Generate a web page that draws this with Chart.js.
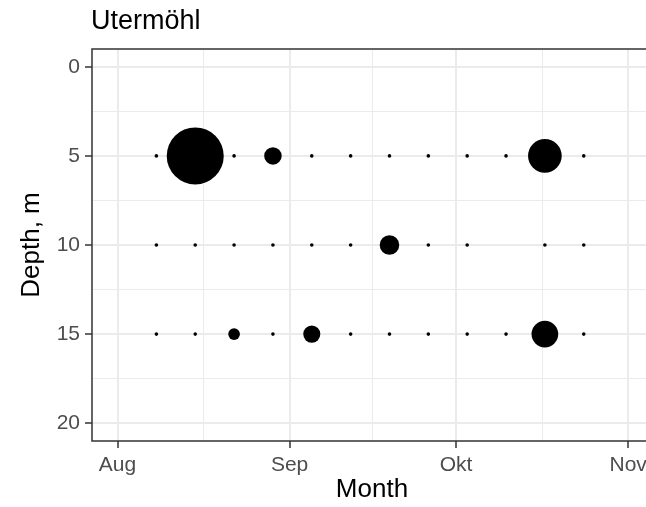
<!DOCTYPE html>
<html>
<head>
<meta charset="utf-8">
<script src="https://cdn.jsdelivr.net/npm/chart.js@4.4.0/dist/chart.umd.min.js"></script>
<style>
  html, body { margin: 0; padding: 0; background: #ffffff; overflow: hidden; }
  #wrap { position: relative; width: 652px; height: 507px; }
</style>
</head>
<body>
<div id="wrap"><canvas id="c"></canvas></div>
<script>
// Weekly sampling dates (month-day)
const sampleDates = ['08-08', '08-15', '08-22', '08-29', '09-05', '09-12',
                     '09-19', '09-26', '10-03', '10-10', '10-17', '10-24'];
const depthLevels = [5, 10, 15];
// Utermöhl counts per sampling date (relative abundance), null = no sample
const counts5m  = [0, 100, 0, 6.8, 0, 0, 0, 0, 0, 0, 31.7, 0];
const counts10m = [0, 0, 0, 0, 0, 0, 8.9, 0, 0, null, 0, 0];
const counts15m = [0, 0, 2.3, 0, 6.4, 0, 0, 0, 0, 0, 18.7, 0];
const countsByDepth = [counts5m, counts10m, counts15m];

const monthStarts = ['08-01', '09-01', '10-01', '11-01'];
const monthLabels = ['Aug', 'Sep', 'Okt', 'Nov'];
const depthTicks = [0, 5, 10, 15, 20];

// day offset from 1 August
const dayOf = s => {
  const [m, d] = s.split('-').map(Number);
  return (Date.UTC(2021, m - 1, d) - Date.UTC(2021, 7, 1)) / 86400000;
};

const monthDays = monthStarts.map(dayOf);
const midpoints = arr => arr.slice(1).map((v, i) => (v + arr[i]) / 2);
const xTickValues = [...monthDays, ...midpoints(monthDays)].sort((a, b) => a - b);
const yTickValues = [...depthTicks, ...midpoints(depthTicks)].sort((a, b) => a - b);

// area-style size scale: radius grows with sqrt of the count
const R_MIN = 1.8, R_MAX = 28.5;
const maxCount = Math.max(...countsByDepth.flat().filter(v => v !== null));
const radiusFor = v => R_MIN + (R_MAX - R_MIN) * Math.sqrt(v / maxCount);

const points = [];
depthLevels.forEach((depth, di) => {
  countsByDepth[di].forEach((v, i) => {
    if (v === null) return;
    points.push({ x: dayOf(sampleDates[i]), y: depth, r: radiusFor(v) });
  });
});

const FONT = '"Liberation Sans", Arial, Helvetica, sans-serif';
const isMajorX = v => monthDays.includes(v);
const isMajorY = v => depthTicks.includes(v);

const panelDecor = {
  id: 'panelDecor',
  afterDraw(chart) {
    const { ctx, chartArea: a } = chart;
    ctx.save();
    ctx.strokeStyle = '#333333';
    ctx.lineWidth = 1.5;
    ctx.strokeRect(a.left, a.top, a.right - a.left, a.bottom - a.top);
    ctx.fillStyle = '#000000';
    ctx.font = '27px ' + FONT;
    ctx.textBaseline = 'alphabetic';
    ctx.textAlign = 'left';
    ctx.fillText('Utermöhl', a.left - 1, 29);
    ctx.restore();
  }
};

new Chart(document.getElementById('c'), {
  type: 'bubble',
  data: {
    datasets: [{
      data: points,
      backgroundColor: '#000000',
      borderWidth: 0,
      hoverBorderWidth: 0
    }]
  },
  options: {
    responsive: true,
    maintainAspectRatio: false,
    animation: false,
    layout: { autoPadding: false, padding: { top: 49, left: 0, right: 0, bottom: 0 } },
    plugins: { legend: { display: false }, tooltip: { enabled: false } },
    scales: {
      x: {
        type: 'linear',
        min: -4.6,
        max: 96.3,
        afterBuildTicks: s => { s.ticks = xTickValues.map(v => ({ value: v })); },
        afterFit: s => { s.height = 66; },
        border: { display: false },
        grid: {
          color: '#EBEBEB',
          lineWidth: c => (isMajorX(c.tick.value) ? 2 : 1),
          drawTicks: true,
          tickLength: 7,
          tickWidth: 1.5,
          tickColor: c => (isMajorX(c.tick.value) ? '#333333' : 'rgba(0,0,0,0)')
        },
        ticks: {
          autoSkip: false,
          maxRotation: 0,
          padding: 5,
          color: '#4D4D4D',
          font: { family: FONT, size: 21 },
          callback: v => { const i = monthDays.indexOf(v); return i >= 0 ? monthLabels[i] : ''; }
        },
        title: {
          display: true,
          text: 'Month',
          color: '#000000',
          font: { family: FONT, size: 26 },
          padding: { top: 0, bottom: 2 }
        }
      },
      y: {
        type: 'linear',
        reverse: true,
        min: -1,
        max: 21,
        afterBuildTicks: s => { s.ticks = yTickValues.map(v => ({ value: v })); },
        afterFit: s => { s.width = 92; },
        border: { display: false },
        grid: {
          color: '#EBEBEB',
          lineWidth: c => (isMajorY(c.tick.value) ? 2 : 1),
          drawTicks: true,
          tickLength: 7,
          tickWidth: 1.5,
          tickColor: c => (isMajorY(c.tick.value) ? '#333333' : 'rgba(0,0,0,0)')
        },
        ticks: {
          autoSkip: false,
          padding: 5,
          color: '#4D4D4D',
          font: { family: FONT, size: 21 },
          callback: v => (isMajorY(v) ? String(v) : '')
        },
        title: {
          display: true,
          text: 'Depth, m',
          color: '#000000',
          font: { family: FONT, size: 26 },
          padding: { top: 16, bottom: 0 }
        }
      }
    }
  },
  plugins: [panelDecor]
});
</script>
</body>
</html>
